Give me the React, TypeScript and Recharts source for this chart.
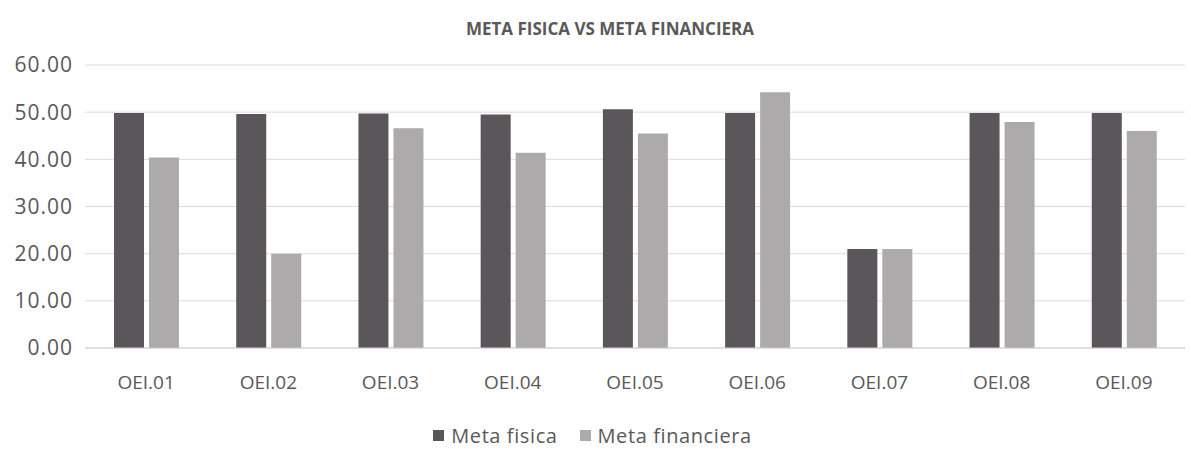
import { BarChart, Bar, XAxis, YAxis, CartesianGrid, Legend } from 'recharts';

const categories = ['OEI.01', 'OEI.02', 'OEI.03', 'OEI.04', 'OEI.05', 'OEI.06', 'OEI.07', 'OEI.08', 'OEI.09'];
const metaFisica = [49.8, 49.6, 49.7, 49.5, 50.6, 49.8, 21.0, 49.8, 49.8];
const metaFinanciera = [40.4, 20.0, 46.6, 41.4, 45.5, 54.2, 21.0, 47.9, 46.0];
const yTicks = [0, 10, 20, 30, 40, 50, 60];

const data = categories.map((name, i) => ({
  name,
  fisica: metaFisica[i],
  financiera: metaFinanciera[i],
}));

const textColor = '#595959';
const font = '"Open Sans", "Liberation Sans", sans-serif';
const series = [
  { key: 'fisica', label: 'Meta fisica', color: '#5b5659' },
  { key: 'financiera', label: 'Meta financiera', color: '#acaaab' },
];

function LegendContent() {
  return (
    <div style={{ display: 'flex', justifyContent: 'center', gap: 22, fontFamily: font, fontSize: 20, color: textColor, letterSpacing: 0.6 }}>
      {series.map((s) => (
        <div key={s.key} style={{ display: 'flex', alignItems: 'center', gap: 7 }}>
          <span style={{ display: 'inline-block', width: 11, height: 11, background: s.color }} />
          <span>{s.label}</span>
        </div>
      ))}
    </div>
  );
}

export default function App() {
  return (
    <div style={{ position: 'absolute', left: 0, top: 0, width: 1191, height: 449, background: '#fff' }}>
      <div
        style={{
          position: 'absolute',
          top: 17,
          left: 0,
          width: 1220,
          textAlign: 'center',
          fontFamily: font,
          fontWeight: 700,
          fontSize: 17,
          color: textColor,
        }}
      >
        META FISICA VS META FINANCIERA
      </div>
      <BarChart
        width={1191}
        height={449}
        data={data}
        margin={{ top: 65, right: 6, bottom: 35, left: 0 }}
        barSize={30}
        barGap={5}
      >
        <CartesianGrid vertical={false} stroke="#dcdcdc" />
        <XAxis
          dataKey="name"
          axisLine={{ stroke: '#d0d0d0' }}
          tickLine={false}
          height={39}
          tickMargin={22}
          tick={{ fill: textColor, fontSize: 19, fontFamily: font }}
        />
        <YAxis
          domain={[0, 60]}
          ticks={yTicks}
          width={85}
          axisLine={false}
          tickLine={false}
          tickMargin={6}
          tickFormatter={(v: number) => v.toFixed(2)}
          tick={{ fill: textColor, fontSize: 21, fontFamily: font, letterSpacing: 1 }}
        />
        <Legend verticalAlign="bottom" content={LegendContent} wrapperStyle={{ bottom: 0 }} />
        <Bar dataKey="fisica" name="Meta fisica" fill="#5b5659" isAnimationActive={false} />
        <Bar dataKey="financiera" name="Meta financiera" fill="#acaaab" isAnimationActive={false} />
      </BarChart>
    </div>
  );
}
